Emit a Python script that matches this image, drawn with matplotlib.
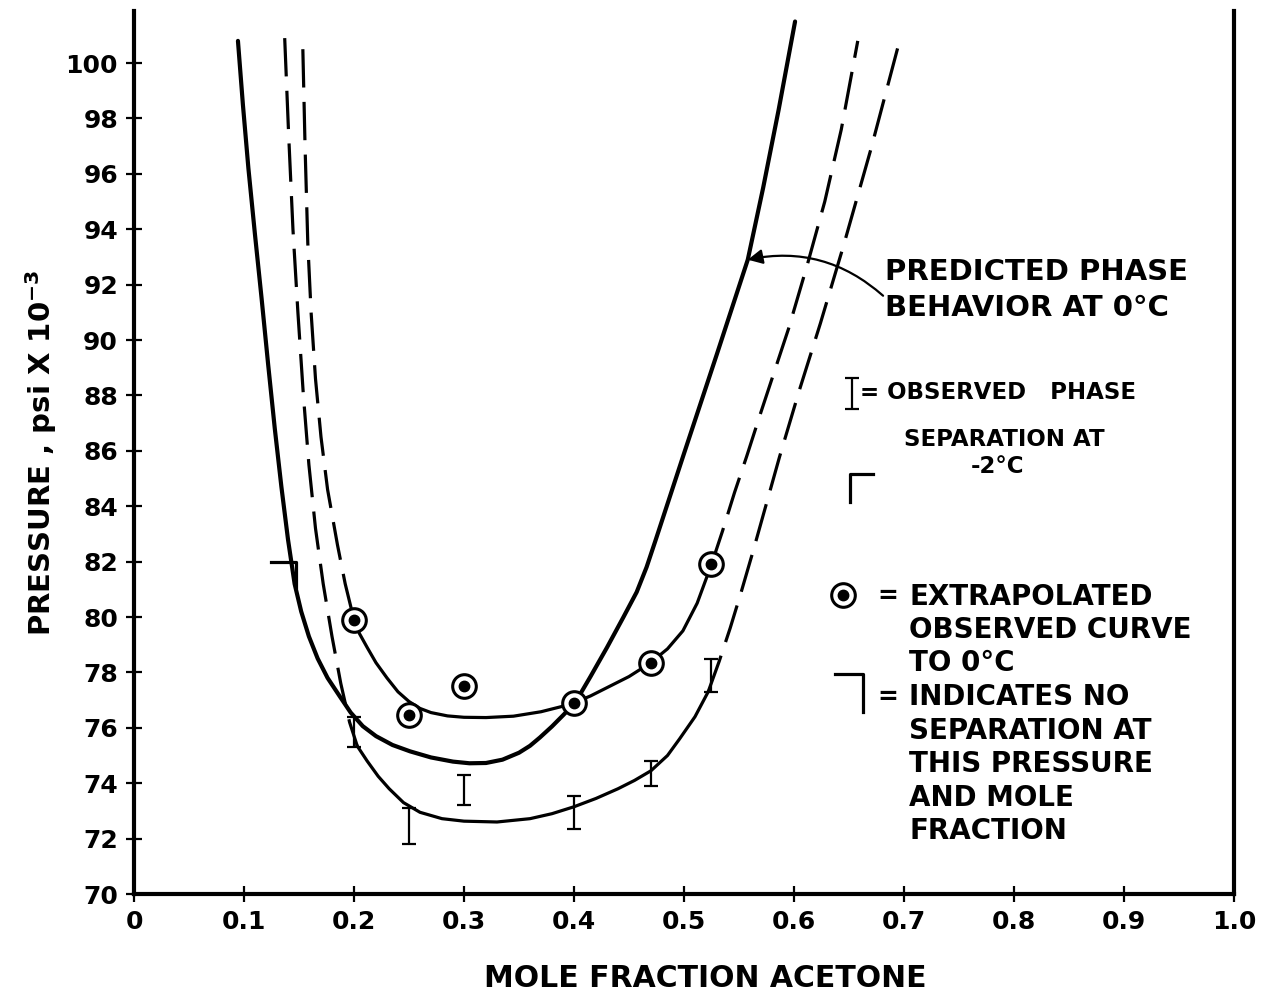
import numpy as np
import matplotlib
matplotlib.use('Agg')
import matplotlib.pyplot as plt

#%% data read off the pressure / mole fraction diagram

# predicted phase behavior at 0 C (solid, one branch)
pred_x = [0.0945, 0.099, 0.104, 0.110, 0.116, 0.122, 0.128, 0.134, 0.140, 0.146,
          0.152, 0.159, 0.167, 0.176, 0.187, 0.197, 0.208, 0.220, 0.235, 0.251,
          0.270, 0.290, 0.305, 0.320, 0.335, 0.350, 0.360, 0.369, 0.380, 0.390,
          0.401, 0.415, 0.430, 0.445, 0.457, 0.466, 0.474, 0.500, 0.530, 0.558,
          0.572, 0.586, 0.601]
pred_y = [100.8, 98.5, 96.2, 93.8, 91.5, 89.1, 86.8, 84.7, 82.8, 81.2,
          80.2, 79.3, 78.5, 77.8, 77.14, 76.55, 76.06, 75.7, 75.38, 75.15,
          74.93, 74.78, 74.72, 74.73, 74.85, 75.1, 75.35, 75.65, 76.05, 76.45,
          76.9, 77.85, 78.9, 80.0, 80.9, 81.8, 82.75, 85.9, 89.5, 92.9,
          95.5, 98.3, 101.5]

# extrapolated observed curve to 0 C
extrap_left_x = [0.1535, 0.1555, 0.158, 0.161, 0.165, 0.170, 0.176, 0.185, 0.192, 0.200]
extrap_left_y = [100.5, 97.0, 93.5, 91.0, 88.6, 86.5, 84.6, 82.6, 81.2, 79.9]
extrap_x = [0.200, 0.205, 0.212, 0.220, 0.230, 0.240, 0.250, 0.260, 0.270, 0.285,
            0.300, 0.320, 0.345, 0.370, 0.390, 0.401, 0.415, 0.430, 0.450, 0.469,
            0.485, 0.499, 0.512, 0.525]
extrap_y = [79.9, 79.4, 78.9, 78.35, 77.8, 77.3, 76.95, 76.7, 76.55, 76.43,
            76.38, 76.37, 76.42, 76.58, 76.78, 76.92, 77.15, 77.45, 77.85, 78.33,
            78.85, 79.5, 80.5, 81.9]
extrap_right_x = [0.525, 0.535, 0.546, 0.557, 0.570, 0.595, 0.612, 0.628, 0.643, 0.658]
extrap_right_y = [81.9, 83.1, 84.5, 85.8, 87.4, 90.4, 92.7, 95.0, 97.6, 100.8]

# observed phase separation at -2 C
obs_left_x = [0.137, 0.1405, 0.1445, 0.149, 0.154, 0.159, 0.165, 0.172, 0.180, 0.188,
              0.196, 0.203]
obs_left_y = [100.9, 97.5, 94.0, 91.0, 88.0, 85.5, 83.2, 81.2, 79.3, 77.6,
              76.2, 75.34]
obs_x = [0.203, 0.212, 0.222, 0.232, 0.245, 0.260, 0.280, 0.300, 0.330, 0.360,
         0.380, 0.400, 0.420, 0.440, 0.455, 0.470, 0.485, 0.496, 0.510, 0.522]
obs_y = [75.34, 74.8, 74.25, 73.8, 73.3, 72.95, 72.72, 72.63, 72.6, 72.72,
         72.9, 73.15, 73.45, 73.8, 74.1, 74.45, 75.0, 75.6, 76.4, 77.3]
obs_right_x = [0.522, 0.532, 0.542, 0.552, 0.563, 0.575, 0.587, 0.605, 0.624, 0.645,
               0.670, 0.696]
obs_right_y = [77.3, 78.4, 79.6, 80.9, 82.4, 84.1, 85.8, 88.2, 90.6, 93.4,
               96.9, 100.8]

# extrapolated points (ringed dots)
circ_x = [0.200, 0.250, 0.300, 0.400, 0.470, 0.525]
circ_y = [79.9, 76.45, 77.5, 76.9, 78.35, 81.9]

# observed separation ranges at -2 C
bar_x = [0.200, 0.250, 0.300, 0.400, 0.470, 0.525]
bar_lo = [75.3, 71.8, 73.2, 72.35, 73.9, 77.3]
bar_hi = [76.4, 73.1, 74.3, 73.55, 74.8, 78.5]

# no separation marker
nosep_x = [0.147]
nosep_y = [82.0]

xticks = np.arange(0, 11) / 10
xtick_labels = ['0', '0.1', '0.2', '0.3', '0.4', '0.5', '0.6', '0.7', '0.8', '0.9', '1.0']
yticks = np.arange(70, 101, 2)

#%%
plt.rcParams['font.family'] = 'DejaVu Sans'
plt.rcParams['font.weight'] = 'bold'
plt.rcParams['axes.labelweight'] = 'bold'
plt.rcParams['mathtext.default'] = 'bf'

fig = plt.figure(figsize=(12.63, 9.97), dpi=100)
ax = fig.add_axes([0.1061, 0.1033, 0.8709, 0.8857])

dash = (0, (12, 4.5))
lw = 2.3

ax.plot(pred_x, pred_y, color='k', lw=3.0, solid_capstyle='round')
ax.plot(extrap_left_x, extrap_left_y, color='k', lw=lw, ls=dash)
ax.plot(extrap_x, extrap_y, color='k', lw=lw)
ax.plot(extrap_right_x, extrap_right_y, color='k', lw=lw, ls=dash)
ax.plot(obs_left_x, obs_left_y, color='k', lw=lw, ls=dash)
ax.plot(obs_x, obs_y, color='k', lw=lw)
ax.plot(obs_right_x, obs_right_y, color='k', lw=lw, ls=dash)

bar_mid = [(a + b) / 2 for a, b in zip(bar_lo, bar_hi)]
bar_err = [(b - a) / 2 for a, b in zip(bar_lo, bar_hi)]
ax.errorbar(bar_x, bar_mid, yerr=bar_err, fmt='none', ecolor='k',
            elinewidth=1.6, capsize=5, capthick=1.6)

ax.plot(circ_x, circ_y, 'o', ms=17, mfc='white', mec='k', mew=2.2, zorder=5)
ax.plot(circ_x, circ_y, 'o', ms=7.5, color='k', zorder=6)

for x, y in zip(nosep_x, nosep_y):
    ax.plot([x - 0.022, x, x], [y, y, y - 0.9], color='k', lw=2.3)

# arrow to the predicted curve
ax.annotate('', xy=(0.558, 92.9), xytext=(0.681, 91.6),
            arrowprops=dict(arrowstyle='-|>', color='k', lw=1.6,
                            mutation_scale=22, shrinkA=0, shrinkB=0,
                            connectionstyle='arc3,rad=0.25'))
ax.text(0.683, 92.45, 'PREDICTED PHASE', fontsize=21, va='center', ha='left')
ax.text(0.683, 91.15, 'BEHAVIOR AT 0°C', fontsize=21, va='center', ha='left')

# key
ax.errorbar([0.653], [88.07], yerr=[0.57], fmt='none', ecolor='k',
            elinewidth=1.6, capsize=5, capthick=1.6)
ax.text(0.660, 88.1, '= OBSERVED   PHASE', fontsize=16.5, va='center', ha='left')
ax.text(0.791, 86.4, 'SEPARATION AT', fontsize=16.5, va='center', ha='center')
ax.text(0.785, 85.45, '-2°C', fontsize=16.5, va='center', ha='center')
ax.plot([0.651, 0.651, 0.672], [84.14, 85.15, 85.15], color='k', lw=2.3)

ax.plot([0.645], [80.8], 'o', ms=17, mfc='white', mec='k', mew=2.2)
ax.plot([0.645], [80.8], 'o', ms=7.5, color='k')
ax.text(0.676, 80.75, '=', fontsize=18, va='center', ha='left')
key_lines = ['EXTRAPOLATED', 'OBSERVED CURVE', 'TO 0°C']
for i, s in enumerate(key_lines):
    ax.text(0.705, 80.71 - i * 1.19, s, fontsize=20, va='center', ha='left')
ax.plot([0.637, 0.663, 0.663], [77.93, 77.93, 76.56], color='k', lw=2.3)
ax.text(0.676, 77.1, '=', fontsize=18, va='center', ha='left')
key_lines = ['INDICATES NO', 'SEPARATION AT', 'THIS PRESSURE', 'AND MOLE', 'FRACTION']
for i, s in enumerate(key_lines):
    ax.text(0.705, 77.1 - i * 1.21, s, fontsize=20, va='center', ha='left')

#%% axes
ax.set_xlim(0, 1.0)
ax.set_ylim(70, 101.88)
ax.set_xticks(xticks)
ax.set_xticklabels(xtick_labels)
ax.set_yticks(yticks)
ax.tick_params(direction='inout', length=11, width=1.6, labelsize=18, pad=6)
ax.spines['top'].set_visible(False)
for s in ['left', 'bottom', 'right']:
    ax.spines[s].set_linewidth(3)

ax.set_xlabel('MOLE FRACTION ACETONE', fontsize=21.5)
ax.xaxis.set_label_coords(0.519, -0.079)
ax.set_ylabel('PRESSURE , psi X 10$^{-3}$', fontsize=21)
ax.yaxis.set_label_coords(-0.068, 0.50)

fig.savefig('out.png', dpi=100)
